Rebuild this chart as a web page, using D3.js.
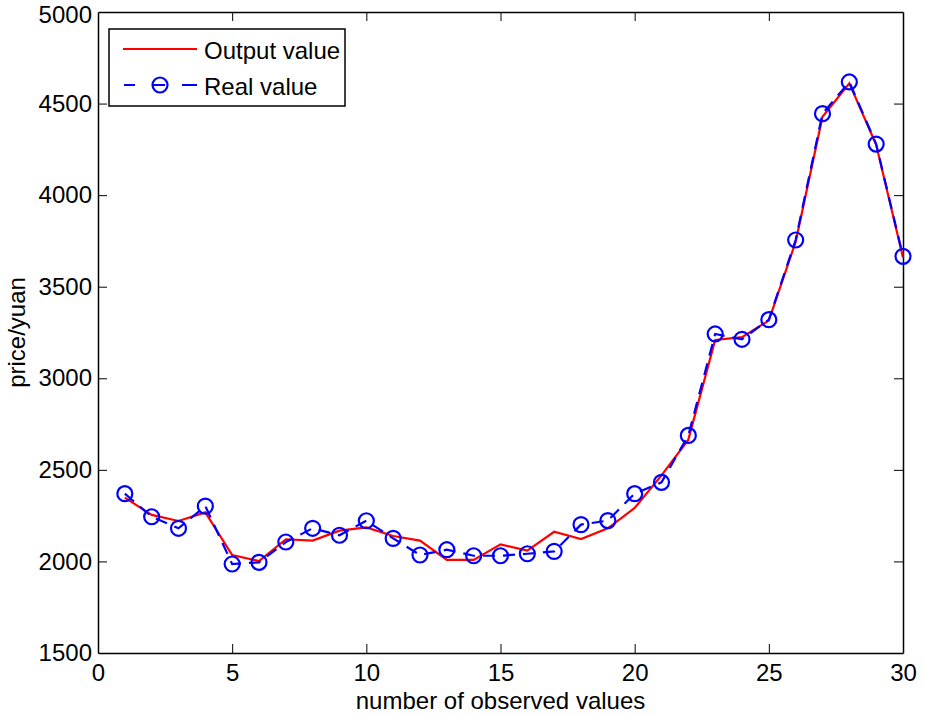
<!DOCTYPE html>
<html>
<head>
<meta charset="utf-8">
<script src="https://cdn.jsdelivr.net/npm/d3@7"></script>
<style>
  body { margin: 0; background: #fff; }
  text { font-family: "Liberation Sans", Arial, Helvetica, sans-serif; }
</style>
</head>
<body>
<div id="chart"></div>
<script>
// observation index 1..30
const observations = d3.range(1, 31);
const realValues = [2370, 2244, 2181, 2302, 1986, 1995, 2106, 2181, 2143, 2222,
                    2126, 2035, 2064, 2031, 2031, 2042, 2055, 2201, 2223, 2370,
                    2432, 2688, 3242, 3213, 3320, 3755, 4445, 4618, 4279, 3666];
const outputValues = [2348, 2254, 2221, 2268, 2035, 2002, 2121, 2114, 2168, 2186,
                      2139, 2114, 2008, 2008, 2093, 2059, 2162, 2122, 2181, 2292,
                      2470, 2665, 3209, 3225, 3315, 3745, 4428, 4610, 4275, 3660];
const xTicks = [0, 5, 10, 15, 20, 25, 30];
const yTicks = [1500, 2000, 2500, 3000, 3500, 4000, 4500, 5000];
const seriesNames = ["Output value", "Real value"];

const width = 925, height = 717;
const margin = {top: 12, right: 22, bottom: 64, left: 98};
const fontSize = "24px";

const svg = d3.select("#chart")
  .append("svg")
  .attr("width", width)
  .attr("height", height);

const x = d3.scaleLinear().domain([0, 30]).range([margin.left, width - margin.right]);
const y = d3.scaleLinear().domain([1500, 5000]).range([height - margin.bottom, margin.top]);

// axes, matlab style: ticks inside, box all round
const tickLen = 9;
const xAxis = svg.append("g")
  .attr("transform", `translate(0,${y(1500)})`)
  .call(d3.axisBottom(x).tickValues(xTicks).tickSizeInner(-tickLen).tickSizeOuter(0)
    .tickPadding(11).tickFormat(d3.format("d")));
const xAxisTop = svg.append("g")
  .attr("transform", `translate(0,${y(5000)})`)
  .call(d3.axisTop(x).tickValues(xTicks).tickSizeInner(-tickLen).tickSizeOuter(0).tickFormat(""));
const yAxis = svg.append("g")
  .attr("transform", `translate(${x(0)},0)`)
  .call(d3.axisLeft(y).tickValues(yTicks).tickSizeInner(-tickLen).tickSizeOuter(0)
    .tickPadding(6).tickFormat(d3.format("d")));
const yAxisRight = svg.append("g")
  .attr("transform", `translate(${x(30)},0)`)
  .call(d3.axisRight(y).tickValues(yTicks).tickSizeInner(-tickLen).tickSizeOuter(0).tickFormat(""));

[xAxis, xAxisTop, yAxis, yAxisRight].forEach(g => {
  g.select(".domain").attr("stroke", "#000").attr("stroke-width", 1.5);
  g.selectAll(".tick line").attr("stroke", "#000").attr("stroke-width", 1);
  g.selectAll(".tick text")
    .attr("fill", "#000")
    .style("font-size", fontSize)
    .style("font-family", "'Liberation Sans', Arial, sans-serif");
});
// 0 and 30 ticks sit on the box
xAxis.selectAll(".tick line").filter(d => d === 0 || d === 30).remove();
xAxisTop.selectAll(".tick line").filter(d => d === 0 || d === 30).remove();
yAxis.selectAll(".tick line").filter(d => d === 1500 || d === 5000).remove();
yAxisRight.selectAll(".tick line").filter(d => d === 1500 || d === 5000).remove();
// top label would clip, nudge it down a touch
yAxis.selectAll(".tick text").filter(d => d === 5000).attr("dy", "0.45em");

// lines
const seriesLine = d3.line().x((d, i) => x(observations[i])).y(d => y(d));

svg.append("path")
  .datum(outputValues)
  .attr("fill", "none")
  .attr("stroke", "#ff0000")
  .attr("stroke-width", 2.2)
  .attr("d", seriesLine);

svg.append("path")
  .datum(realValues)
  .attr("fill", "none")
  .attr("stroke", "#0000ff")
  .attr("stroke-width", 2.2)
  .attr("stroke-dasharray", "12,8")
  .attr("d", seriesLine);

svg.append("g")
  .selectAll("circle")
  .data(realValues)
  .join("circle")
  .attr("cx", (d, i) => x(observations[i]))
  .attr("cy", d => y(d))
  .attr("r", 7.5)
  .attr("fill", "none")
  .attr("stroke", "#0000ff")
  .attr("stroke-width", 2.2);

// legend
const legend = svg.append("g");
legend.append("rect")
  .attr("x", 109).attr("y", 29)
  .attr("width", 236).attr("height", 77)
  .attr("fill", "#fff")
  .attr("stroke", "#000")
  .attr("stroke-width", 1.5);

legend.append("line")
  .attr("x1", 123).attr("x2", 197)
  .attr("y1", 49).attr("y2", 49)
  .attr("stroke", "#ff0000").attr("stroke-width", 2.2);
legend.append("text")
  .attr("x", 204).attr("y", 50).attr("dy", "0.36em")
  .style("font-size", fontSize)
  .text(seriesNames[0]);

legend.append("line")
  .attr("x1", 124).attr("x2", 197)
  .attr("y1", 85).attr("y2", 85)
  .attr("stroke", "#0000ff").attr("stroke-width", 2.2)
  .attr("stroke-dasharray", "11,18,12,17,15");
legend.append("circle")
  .attr("cx", 160).attr("cy", 85).attr("r", 7.5)
  .attr("fill", "none")
  .attr("stroke", "#0000ff").attr("stroke-width", 2.2);
legend.append("text")
  .attr("x", 204).attr("y", 86).attr("dy", "0.36em")
  .style("font-size", fontSize)
  .text(seriesNames[1]);

// axis titles
svg.append("text")
  .attr("x", (x(0) + x(30)) / 2)
  .attr("y", 709)
  .attr("text-anchor", "middle")
  .style("font-size", fontSize)
  .text("number of observed values");

svg.append("text")
  .attr("transform", `translate(25,${(y(1500) + y(5000)) / 2}) rotate(-90)`)
  .attr("text-anchor", "middle")
  .style("font-size", fontSize)
  .text("price/yuan");
</script>
</body>
</html>
